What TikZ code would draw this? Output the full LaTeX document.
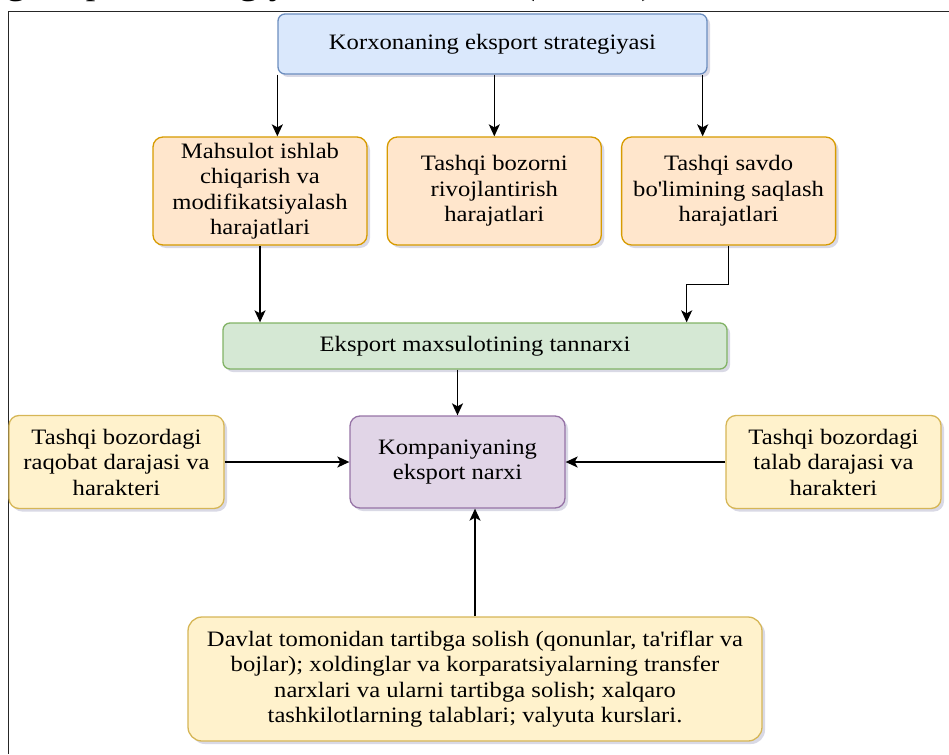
\documentclass[tikz,border=0pt]{standalone}
\usepackage{fontspec}
\setmainfont{Liberation Serif}[FakeStretch=1.12]
\usepackage{tikz}
\usetikzlibrary{arrows.meta,positioning,calc,shadows}
\definecolor{skyfill}{HTML}{DAE8FC}
\definecolor{skyline}{HTML}{6C8EBF}
\definecolor{peachfill}{HTML}{FFE6CC}
\definecolor{peachline}{HTML}{D79B00}
\definecolor{mintfill}{HTML}{D5E8D4}
\definecolor{mintline}{HTML}{82B366}
\definecolor{lilacfill}{HTML}{E1D5E7}
\definecolor{lilacline}{HTML}{9673A6}
\definecolor{creamfill}{HTML}{FFF2CC}
\definecolor{creamline}{HTML}{D6B656}

\begin{document}
\begin{tikzpicture}[
  x=1pt, y=-1pt,
  font=\fontsize{22}{25.5}\selectfont,
  box/.style={draw, rounded corners=10pt, line width=1.3pt, align=center, inner sep=0pt,
    drop shadow={shadow xshift=3pt, shadow yshift=-3pt, opacity=0.25, fill=gray!80!blue}},
  cost/.style={box, fill=peachfill, draw=peachline, minimum width=214pt, minimum height=108pt},
  factor/.style={box, fill=creamfill, draw=creamline, minimum width=215pt, minimum height=93pt},
  arr/.style={-{Stealth[length=12pt, width=11pt, inset=3pt]}, line width=1.5pt},
]
\useasboundingbox (0,0) rectangle (949,754);
\begin{scope}
  \clip (0,0) rectangle (949,754);
  \node[anchor=base west, font=\fontsize{34}{40}\selectfont] (caption) at (-16,-5) {ng eksport strategiyasi shakllanadi (7-rasm).};
\end{scope}
\draw[line width=1pt, black!85] (949,12) -- (8.5,12) -- (8.5,754);

\node[box, fill=skyfill, draw=skyline, rounded corners=7pt, minimum width=429pt, minimum height=60pt] (strat) at (492.5,44) {Korxonaning eksport strategiyasi};
\node[cost] (mahsulot) at (260,191) {Mahsulot ishlab\\chiqarish va\\modifikatsiyalash\\harajatlari};
\node[cost, right=19pt of mahsulot] (bozor) {Tashqi bozorni\\rivojlantirish\\harajatlari};
\node[cost, right=19pt of bozor] (savdo) {Tashqi savdo\\bo\textquotesingle limining saqlash\\harajatlari};
\node[box, fill=mintfill, draw=mintline, rounded corners=7pt, minimum width=504pt, minimum height=46pt] (tannarx) at (475,346) {Eksport maxsulotining tannarxi};
\node[box, fill=lilacfill, draw=lilacline, minimum width=215pt, minimum height=92pt] (narx) at (457.5,462) {Kompaniyaning\\eksport narxi};
\node[factor] (raqobat) at (116.5,462) {Tashqi bozordagi\\raqobat darajasi va\\harakteri};
\node[factor] (talab) at (833.5,462) {Tashqi bozordagi\\talab darajasi va\\harakteri};
\node[box, fill=creamfill, draw=creamline, rounded corners=14pt, minimum width=574pt, minimum height=124pt] (davlat) at (475,679) {Davlat tomonidan tartibga solish (qonunlar, ta\textquotesingle riflar va\\bojlar); xoldinglar va korparatsiyalarning transfer\\narxlari va ularni tartibga solish; xalqaro\\tashkilotlarning talablari; valyuta kurslari.};

\draw[arr] (strat.south west) -- (strat.south west |- mahsulot.north);
\draw[arr] (bozor.north |- strat.south) -- (bozor.north);
\draw[arr] ([xshift=-5pt]strat.south east) -- ([xshift=-5pt]strat.south east |- savdo.north);
\draw[arr] (mahsulot.south) -- (mahsulot.south |- tannarx.north);
\draw[arr] (savdo.south) -- ++(0,39) -| ([xshift=-41pt]tannarx.north east);
\draw[arr] (tannarx.south -| narx.north) -- (narx.north);
\draw[arr] (raqobat.east) -- (narx.west);
\draw[arr] (talab.west) -- (narx.east);
\draw[arr] (davlat.north) -- (davlat.north |- narx.south);
\end{tikzpicture}
\end{document}
